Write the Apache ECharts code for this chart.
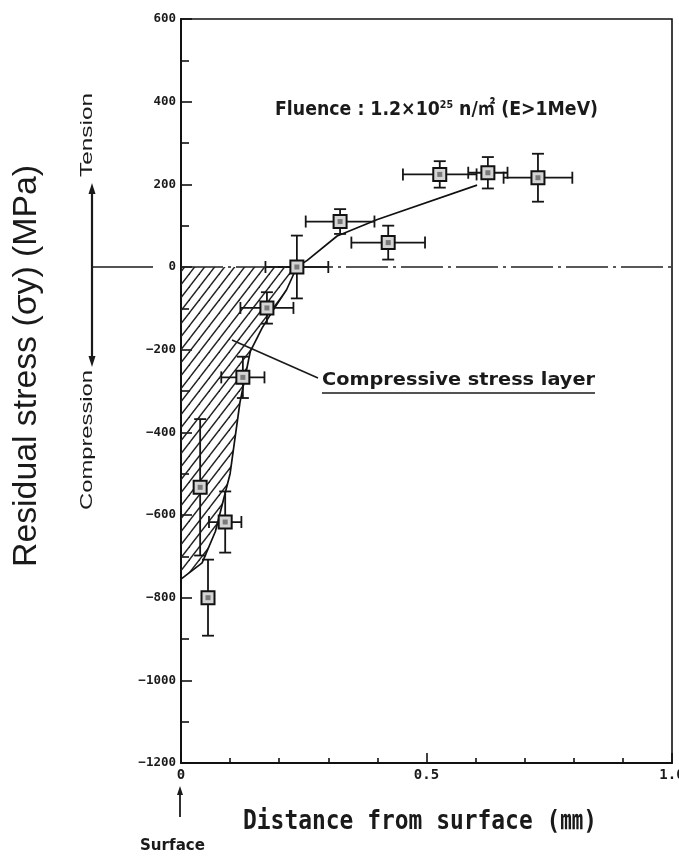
<!DOCTYPE html>
<html>
<head>
<meta charset="utf-8">
<script src="https://cdn.jsdelivr.net/npm/echarts@6/dist/echarts.min.js"></script>
<style>
  html, body { margin: 0; padding: 0; background: #fff; }
  #main { width: 679px; height: 857px; }
</style>
</head>
<body>
<div id="main"></div>
<script>
// measured points (distance in mm, stress in MPa) with error bars
const distance  = [0.055, 0.039, 0.090, 0.126, 0.175, 0.236, 0.324, 0.422, 0.527, 0.625, 0.727]
const stress    = [-800, -533, -617, -267, -99, 0, 110, 59, 224, 228, 216]
const distErr   = [0, 0, 0.033, 0.044, 0.054, 0.064, 0.070, 0.075, 0.075, 0.040, 0.070]
const stressErr = [92, 165, 74, 50, 38, 76, 30, 41, 32, 38, 58]

// hand drawn trend curve
const curveDist   = [0, 0.043, 0.070, 0.100, 0.120, 0.141, 0.165, 0.190, 0.215, 0.236, 0.257, 0.318, 0.400, 0.603]
const curveStress = [-755, -716, -640, -500, -328, -205, -148, -100, -55, 0, 16, 75, 115, 198]

const xTickLabels = ["0", "0.5", "1.0"]

var chart = echarts.init(document.getElementById('main'))

// hatch pattern ////
function makeHatch(){
  let w = 10, h = 13
  let c = document.createElement('canvas')
  c.width = w; c.height = h
  let ctx = c.getContext('2d')
  ctx.strokeStyle = '#222'
  ctx.lineWidth = 1.4
  let seg = (x1,y1,x2,y2)=>{ ctx.beginPath(); ctx.moveTo(x1,y1); ctx.lineTo(x2,y2); ctx.stroke() }
  seg(-0.2*w, 1.2*h, 1.2*w, -0.2*h)
  seg(0.8*w, 1.2*h, 1.2*w, 0.8*h)
  seg(-0.2*w, 0.2*h, 0.2*w, -0.2*h)
  return c
}

// width of a string in a given font, used to squeeze text to the scan's width
let mctx = document.createElement('canvas').getContext('2d')
function textW(t, font){ mctx.font = font; return mctx.measureText(t).width }

let points = distance.map((d,i)=>[d, stress[i], distErr[i], stressErr[i]])
let curve = curveDist.map((d,i)=>[d, curveStress[i]])
let hatchPart = curve.filter(p=>p[1] <= 0)

function renderErr(params, api){
  let x = api.value(0), y = api.value(1), xe = api.value(2), ye = api.value(3)
  let top = api.coord([x, y + ye]), bot = api.coord([x, y - ye])
  let st = { stroke: '#151515', lineWidth: 1.8 }
  let c = 6
  let kids = [
    { type: 'line', shape: { x1: top[0], y1: top[1], x2: bot[0], y2: bot[1] }, style: st },
    { type: 'line', shape: { x1: top[0]-c, y1: top[1], x2: top[0]+c, y2: top[1] }, style: st },
    { type: 'line', shape: { x1: bot[0]-c, y1: bot[1], x2: bot[0]+c, y2: bot[1] }, style: st }
  ]
  if (xe > 0) {
    let l = api.coord([x - xe, y]), r = api.coord([x + xe, y])
    kids.push(
      { type: 'line', shape: { x1: l[0], y1: l[1], x2: r[0], y2: r[1] }, style: st },
      { type: 'line', shape: { x1: l[0], y1: l[1]-c, x2: l[0], y2: l[1]+c }, style: st },
      { type: 'line', shape: { x1: r[0], y1: r[1]-c, x2: r[0], y2: r[1]+c }, style: st }
    )
  }
  return { type: 'group', children: kids }
}

var option = {
  backgroundColor: '#fff',
  animation: false,
  grid: {
    left: 181, right: 7, top: 19, bottom: 94,
    containLabel: false, outerBoundsMode: 'none',
    show: true, borderColor: '#111', borderWidth: 1.6
  },
  xAxis: {
    type: 'value', min: 0, max: 1, interval: 0.5,
    axisLine: { onZero: false, lineStyle: { color: '#111', width: 2 } },
    axisTick: { inside: true, length: 10, lineStyle: { color: '#111', width: 1.6 } },
    minorTick: { show: true, splitNumber: 5, length: 5, lineStyle: { color: '#111', width: 1.6 } },
    splitLine: { show: false },
    axisLabel: {
      margin: 5, color: '#1a1a1a', fontSize: 14, fontWeight: 'bold', fontFamily: 'DejaVu Sans Mono',
      formatter: v => xTickLabels[Math.round(v * 2)]
    }
  },
  yAxis: {
    type: 'value', min: -1200, max: 600, interval: 200,
    axisLine: { onZero: false, lineStyle: { color: '#111', width: 2 } },
    axisTick: { inside: true, length: 11, lineStyle: { color: '#111', width: 1.6 } },
    minorTick: { show: true, splitNumber: 2, length: 8, lineStyle: { color: '#111', width: 1.6 } },
    splitLine: { show: false },
    axisLabel: {
      margin: 5, color: '#1a1a1a', fontSize: 12.5, fontWeight: 'bold', fontFamily: 'DejaVu Sans Mono',
      formatter: v => String(v).replace('-', '\u2212')
    }
  },
  series: [
    {
      name: 'hatch', type: 'line', data: hatchPart, showSymbol: false, symbol: 'none',
      lineStyle: { opacity: 0 },
      areaStyle: { color: { image: makeHatch(), repeat: 'repeat' }, opacity: 1, origin: 0 },
      z: 1
    },
    {
      name: 'curve', type: 'line', data: curve, symbol: 'none',
      lineStyle: { color: '#111', width: 1.7 },
      markLine: {
        silent: true, symbol: 'none', label: { show: false },
        lineStyle: { color: '#222', width: 1.5, type: [42, 5, 3, 5] },
        data: [{ yAxis: 0 }]
      },
      z: 3
    },
    {
      name: 'err', type: 'custom', data: points, renderItem: renderErr,
      encode: { x: 0, y: 1 }, z: 4
    },
    {
      name: 'pts', type: 'scatter', data: points.map(p=>[p[0], p[1]]),
      symbol: 'rect', symbolSize: 13,
      itemStyle: { color: '#d4d4d4', borderColor: '#111', borderWidth: 2, opacity: 1 },
      z: 5
    },
    {
      name: 'ptsInner', type: 'scatter', data: points.map(p=>[p[0], p[1]]),
      symbol: 'rect', symbolSize: 5,
      itemStyle: { color: '#7a7a7a', opacity: 1 },
      z: 6
    }
  ]
}
chart.setOption(option)

// annotations
let zeroY = chart.convertToPixel({ yAxisIndex: 0 }, 0)
let ink = '#1a1a1a'

let yTitle = 'Residual stress (σy) (MPa)', yFont = '34px "Liberation Sans", Arial, sans-serif'
let tFont = '17px "Liberation Sans", Arial, sans-serif'
let xTitle = 'Distance from surface (㎜)', xFont = 'bold 26px "DejaVu Sans Mono", "Noto Sans CJK JP", monospace'
let cFont = 'bold 17px "DejaVu Sans", sans-serif'
let sFont = 'bold 15px "DejaVu Sans", sans-serif'
let fFont = '600 20px "DejaVu Sans", "Noto Sans CJK JP", sans-serif'
let fSup = 'bold 11px "DejaVu Sans", sans-serif'
let fA = 'Fluence : 1.2×10', fB = '25', fC = ' n/㎡ (E>1MeV)'
let fluenceW = textW(fA, fFont) + textW(fB, fSup) + textW(fC, fFont)

chart.setOption({
  graphic: [
    { type: 'text', x: 27, y: 366, rotation: Math.PI / 2, scaleX: 402 / textW(yTitle, yFont),
      style: { text: yTitle, font: yFont, fill: ink, align: 'center', verticalAlign: 'middle' } },
    { type: 'text', x: 87, y: 135, rotation: Math.PI / 2, scaleX: 84 / textW('Tension', tFont),
      style: { text: 'Tension', font: tFont, fill: ink, align: 'center', verticalAlign: 'middle' } },
    { type: 'text', x: 87, y: 440, rotation: Math.PI / 2, scaleX: 140 / textW('Compression', tFont),
      style: { text: 'Compression', font: tFont, fill: ink, align: 'center', verticalAlign: 'middle' } },
    // tension / compression bracket
    { type: 'line', shape: { x1: 92, y1: 189, x2: 92, y2: 361 }, style: { stroke: ink, lineWidth: 2.2 } },
    { type: 'polygon', shape: { points: [[92, 183], [88.5, 194], [95.5, 194]] }, style: { fill: ink } },
    { type: 'polygon', shape: { points: [[92, 367], [88.5, 356], [95.5, 356]] }, style: { fill: ink } },
    { type: 'line', shape: { x1: 92, y1: zeroY, x2: 153, y2: zeroY }, style: { stroke: ink, lineWidth: 1.6 } },
    // fluence note
    { type: 'text', x: 275, y: 110, scaleX: 323 / fluenceW,
      style: {
        text: '{a|' + fA + '}{s|' + fB + '}{a|' + fC + '}', fill: ink, align: 'left', verticalAlign: 'middle',
        rich: { a: { font: fFont, fill: ink }, s: { font: fSup, fill: ink, verticalAlign: 'top' } }
      } },
    // compressive layer callout
    { type: 'line', shape: { x1: 232, y1: 340, x2: 318, y2: 378 }, style: { stroke: ink, lineWidth: 1.6 } },
    { type: 'text', x: 322, y: 381, scaleX: 273 / textW('Compressive stress layer', cFont),
      style: { text: 'Compressive stress layer', font: cFont, fill: ink, align: 'left', verticalAlign: 'middle' } },
    { type: 'line', shape: { x1: 322, y1: 393, x2: 595, y2: 393 }, style: { stroke: ink, lineWidth: 1.5 } },
    // x title and surface marker
    { type: 'text', x: 243, y: 822, scaleX: 354 / textW(xTitle, xFont),
      style: { text: xTitle, font: xFont, fill: ink, align: 'left', verticalAlign: 'middle' } },
    { type: 'line', shape: { x1: 180, y1: 791, x2: 180, y2: 817 }, style: { stroke: ink, lineWidth: 1.8 } },
    { type: 'polygon', shape: { points: [[180, 786], [177, 795], [183, 795]] }, style: { fill: ink } },
    { type: 'text', x: 140, y: 846, scaleX: 65 / textW('Surface', sFont),
      style: { text: 'Surface', font: sFont, fill: ink, align: 'left', verticalAlign: 'middle' } }
  ]
})
</script>
</body>
</html>
